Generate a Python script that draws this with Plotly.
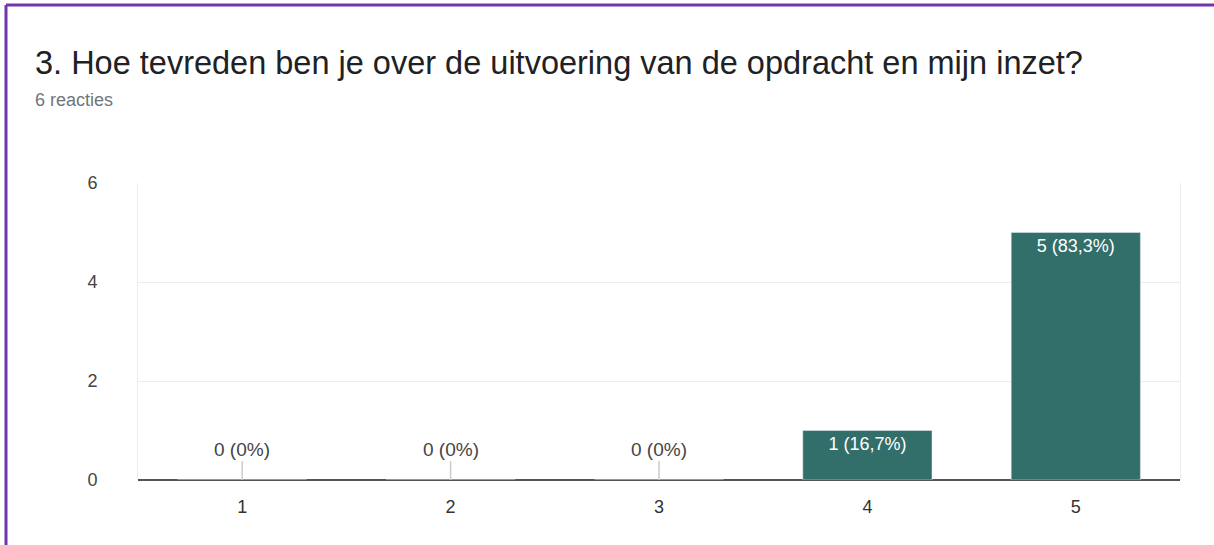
import plotly.graph_objects as go

# Data
categories = ["1", "2", "3", "4", "5"]
counts = [0, 0, 0, 1, 5]
y_ticks = [0, 2, 4, 6]

total = sum(counts)


def pct_label(c):
    p = round(c / total * 100, 1)
    s = f"{p:.1f}".replace(".", ",") if c else "0"
    return f"{c} ({s}%)"


labels = [pct_label(c) for c in counts]

W, H = 1214, 545
ML, MR, MT, MB = 138, 34, 183, 65
PW, PH = W - ML - MR, H - MT - MB

fig = go.Figure(data=[
    go.Bar(
        x=categories,
        y=counts,
        text=[l if c else "" for l, c in zip(labels, counts)],
        textposition="inside",
        insidetextanchor="end",
        textfont=dict(color="white", size=18),
        marker_color="#326e6a",
        width=0.62,
        hoverinfo="skip",
    )
])

# zero-value labels with small leader line
for i, (c, l) in enumerate(zip(counts, labels)):
    if c == 0:
        fig.add_annotation(
            x=i, y=0, text=l, showarrow=True, arrowhead=0,
            arrowcolor="#cccccc", arrowwidth=1.5, ax=0, ay=-31,
            font=dict(size=19, color="#444444"),
        )

# title and subtitle
fig.add_annotation(
    xref="paper", yref="paper", x=(33 - ML) / PW, y=1 + (MT - 63) / PH,
    xanchor="left", yanchor="middle", showarrow=False,
    text="3. Hoe tevreden ben je over de uitvoering van de opdracht en mijn inzet?",
    font=dict(size=32.5, color="#202124"),
)
fig.add_annotation(
    xref="paper", yref="paper", x=(33 - ML) / PW, y=1 + (MT - 100) / PH,
    xanchor="left", yanchor="middle", showarrow=False,
    text="6 reacties", font=dict(size=18, color="#70757a"),
)

# purple frame (top and left)
fig.add_shape(type="line", xref="paper", yref="paper",
              x0=(6 - ML) / PW, x1=(W + 5 - ML) / PW,
              y0=1 + (MT - 5) / PH, y1=1 + (MT - 5) / PH,
              line=dict(color="#7434ae", width=3))
fig.add_shape(type="line", xref="paper", yref="paper",
              x0=(6 - ML) / PW, x1=(6 - ML) / PW,
              y0=1 + (MT - 5) / PH, y1=-(MB + 5) / PH,
              line=dict(color="#7434ae", width=3))

fig.update_layout(
    width=W, height=H,
    margin=dict(l=ML, r=MR, t=MT, b=MB),
    paper_bgcolor="white", plot_bgcolor="white",
    font=dict(family="Liberation Sans, Arial, sans-serif", size=18, color="#444444"),
    showlegend=False,
)
fig.update_xaxes(
    type="category", showgrid=False, showline=False, ticks="",
    tickfont=dict(size=18, color="#333333"), ticklabelstandoff=14,
)
fig.update_yaxes(
    range=[0, 6], tickvals=y_ticks, showgrid=True, gridcolor="#ececec",
    zeroline=True, zerolinecolor="#555555", zerolinewidth=2,
    showline=True, mirror=True, linecolor="#ececec", linewidth=1,
    tickfont=dict(size=18, color="#444444"), ticklabelstandoff=36,
)

fig.write_html("out.html", config={"displayModeBar": False},
               post_script="document.body.style.margin='0';")
